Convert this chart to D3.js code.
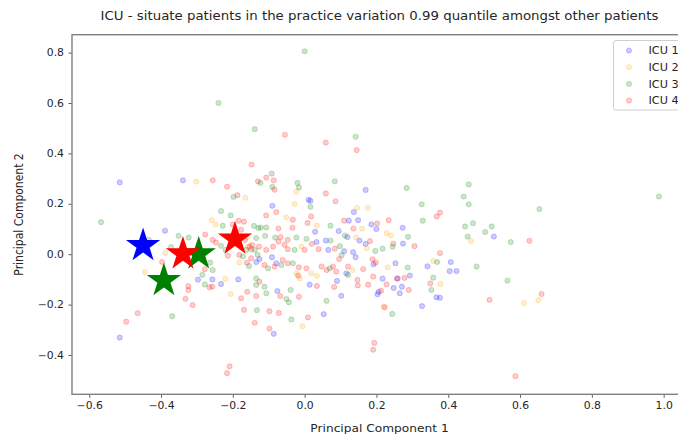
<!DOCTYPE html>
<html>
<head>
<meta charset="utf-8">
<script src="https://cdn.jsdelivr.net/npm/d3@7"></script>
<style>
  html, body { margin: 0; padding: 0; background: #fff; }
  text { font-family: "DejaVu Sans", sans-serif; fill: #262626; }
</style>
</head>
<body>
<svg id="chart" width="678" height="437"></svg>
<script>
// Patients projected on the first two principal components, one series per ICU
const icu1 = [[-0.515,0.285],[-0.339,0.293],[-0.389,0.093],[-0.297,-0.101],[-0.257,-0.100],[-0.233,-0.118],[-0.185,-0.100],[-0.515,-0.331],[-0.135,-0.031],[0.170,0.255],[0.011,0.216],[0.016,0.212],[-0.090,0.192],[0.029,0.089],[0.059,0.054],[0.095,0.092],[0.123,0.133],[0.149,0.135],[0.137,0.167],[0.186,0.118],[0.200,0.100],[0.273,0.105],[0.119,0.068],[0.153,0.054],[0.170,0.041],[0.274,0.042],[0.033,0.048],[0.066,0.017],[0.110,0.012],[0.135,0.008],[0.142,-0.012],[0.192,-0.040],[0.253,-0.036],[0.342,-0.048],[0.293,-0.085],[0.259,-0.096],[0.217,-0.097],[0.248,-0.134],[0.271,-0.129],[0.265,-0.155],[0.206,-0.149],[0.203,-0.159],[0.327,-0.206],[0.367,-0.171],[-0.126,-0.019],[-0.091,-0.012],[-0.079,-0.036],[0.014,-0.121],[0.090,-0.106],[0.102,-0.165],[0.053,-0.238],[0.116,-0.076],[-0.076,-0.146],[-0.086,-0.316],[0.527,0.070],[0.407,-0.031],[0.404,-0.067],[0.423,-0.067],[0.377,-0.173]];

const icu2 = [[-0.302,0.288],[-0.165,0.224],[-0.259,0.135],[-0.248,0.118],[-0.388,0.005],[-0.445,-0.071],[-0.221,-0.097],[-0.206,-0.158],[-0.182,-0.033],[-0.158,0.030],[-0.160,0.068],[-0.023,0.248],[-0.028,0.199],[-0.051,0.146],[0.034,0.114],[0.146,0.184],[0.176,0.184],[0.160,0.101],[0.228,0.084],[0.143,0.066],[0.173,0.024],[0.240,0.074],[0.231,-0.052],[0.358,-0.027],[0.220,-0.207],[-0.009,0.030],[-0.023,-0.076],[-0.014,-0.096],[0.019,-0.076],[0.034,-0.086],[0.133,-0.063],[-0.006,-0.286],[0.463,0.052],[0.378,-0.118],[0.651,-0.182],[0.611,-0.194]];

const icu3 = [[-0.240,0.600],[0.000,0.805],[-0.139,0.496],[0.142,0.466],[0.457,0.277],[0.443,0.229],[0.457,0.198],[0.654,0.179],[0.987,0.229],[0.447,0.110],[0.469,0.123],[0.521,0.110],[0.503,0.088],[0.454,0.070],[0.574,0.048],[0.479,-0.049],[0.565,-0.105],[-0.567,0.127],[-0.198,0.228],[-0.233,0.171],[-0.206,0.154],[-0.228,0.113],[-0.141,0.112],[-0.351,0.073],[-0.323,0.066],[-0.434,0.057],[-0.233,0.033],[-0.220,0.017],[-0.372,0.028],[-0.263,-0.033],[-0.256,-0.063],[-0.285,-0.082],[-0.278,-0.120],[-0.369,-0.246],[-0.133,-0.222],[-0.155,-0.047],[-0.135,-0.096],[-0.135,-0.122],[-0.163,0.017],[-0.131,-0.003],[-0.129,0.104],[-0.092,0.320],[-0.123,0.283],[-0.090,0.267],[-0.020,0.283],[-0.016,0.265],[0.084,0.289],[0.284,0.263],[0.016,0.188],[0.072,0.113],[-0.122,0.106],[-0.107,0.106],[-0.135,0.064],[-0.110,0.073],[-0.082,0.066],[-0.023,0.066],[0.005,0.061],[0.072,0.054],[0.326,0.198],[0.329,0.133],[0.098,0.032],[0.112,0.074],[0.245,0.030],[0.288,0.069],[0.217,0.022],[0.197,0.013],[0.103,-0.004],[0.287,-0.053],[0.369,-0.031],[0.353,-0.142],[0.358,-0.093],[0.244,-0.237],[-0.172,-0.009],[-0.139,0.017],[-0.028,0.017],[-0.102,-0.056],[-0.065,-0.043],[-0.033,-0.036],[0.070,-0.056],[0.061,-0.185],[0.121,-0.082],[-0.051,-0.178],[-0.044,-0.191],[-0.039,-0.142],[-0.107,-0.155],[-0.112,-0.129],[-0.037,-0.259]];

const icu4 = [[-0.055,0.474],[0.059,0.443],[0.145,0.413],[0.377,0.165],[0.626,0.053],[0.377,0.004],[0.660,-0.158],[0.515,-0.181],[0.587,-0.484],[-0.209,-0.445],[-0.216,-0.472],[0.194,-0.352],[0.191,-0.379],[-0.256,0.293],[-0.148,0.356],[-0.216,0.268],[-0.187,0.234],[-0.130,0.289],[-0.184,0.133],[-0.169,0.129],[-0.177,0.097],[-0.277,0.078],[-0.256,0.057],[-0.247,0.046],[-0.397,-0.031],[-0.278,-0.060],[-0.257,-0.129],[-0.265,-0.131],[-0.324,-0.127],[-0.324,-0.142],[-0.332,-0.177],[-0.312,-0.202],[-0.465,-0.234],[-0.497,-0.268],[-0.177,-0.175],[-0.169,-0.221],[-0.139,-0.272],[-0.160,-0.149],[-0.135,-0.166],[-0.214,-0.006],[-0.182,-0.003],[-0.161,-0.033],[-0.149,-0.016],[-0.146,0.037],[-0.149,0.020],[-0.200,0.117],[-0.166,0.057],[-0.107,0.304],[-0.086,0.293],[-0.084,0.256],[0.059,0.241],[0.086,0.210],[-0.079,0.167],[-0.107,0.154],[-0.033,0.137],[0.018,0.150],[0.008,0.124],[-0.073,0.102],[-0.034,0.105],[-0.067,0.068],[-0.047,0.057],[0.110,0.133],[0.136,0.102],[0.234,0.135],[0.202,0.122],[0.368,0.150],[0.182,0.052],[0.247,0.042],[0.306,0.032],[0.020,0.041],[0.039,0.020],[0.084,0.022],[0.096,-0.019],[0.189,-0.020],[0.198,-0.033],[0.191,-0.089],[0.163,-0.059],[0.147,-0.102],[0.148,-0.124],[0.177,-0.121],[0.228,-0.120],[0.257,-0.097],[0.278,-0.094],[0.290,-0.142],[0.213,-0.145],[0.223,-0.211],[0.350,-0.116],[-0.153,0.030],[-0.127,0.030],[-0.107,0.017],[-0.088,0.030],[-0.073,0.050],[-0.056,0.037],[-0.047,0.020],[0.000,0.017],[-0.061,-0.023],[-0.112,-0.043],[-0.084,-0.049],[-0.047,-0.036],[-0.016,-0.052],[-0.018,-0.085],[0.005,-0.056],[0.047,-0.049],[0.061,-0.063],[0.079,-0.049],[0.088,-0.069],[0.082,-0.130],[0.034,-0.126],[0.121,-0.049],[-0.068,-0.166],[-0.016,-0.169],[-0.098,-0.226],[-0.126,-0.109],[-0.098,-0.295],[0.009,-0.251],[-0.072,-0.233]];

// Patients in the 0.99 quantile, highlighted as stars
const starsIcu1 = [[-0.450,0.034]];
const starsIcu3 = [[-0.295,0.001],[-0.392,-0.105]];
const starsIcu4 = [[-0.339,0.001],[-0.194,0.060]];

const seriesNames = ["ICU 1", "ICU 2", "ICU 3", "ICU 4"];
const seriesColors = ["#0000ff", "#ffa500", "#008000", "#ff0000"];
const xTicks = [-0.6, -0.4, -0.2, 0.0, 0.2, 0.4, 0.6, 0.8, 1.0];
const yTicks = [-0.4, -0.2, 0.0, 0.2, 0.4, 0.6, 0.8];

const svg = d3.select("#chart");
const plotLeft = 72, plotRight = 687, plotTop = 34.7, plotBottom = 394.3;
// Text in this figure is slightly wider than tall
const sx = 1.13;

const x = d3.scaleLinear().domain([-0.648, 1.065]).range([plotLeft, plotRight]);
const y = d3.scaleLinear().domain([-0.556, 0.871]).range([plotBottom, plotTop]);

const fmt = v => d3.format(".1f")(v).replace("-", "\u2212");

svg.append("defs").append("clipPath").attr("id", "plotClip")
  .append("rect").attr("x", plotLeft).attr("y", plotTop)
  .attr("width", plotRight - plotLeft).attr("height", plotBottom - plotTop);

const plot = svg.append("g").attr("clip-path", "url(#plotClip)");

// Scatter of all patients
[icu1, icu2, icu3, icu4].forEach((pts, i) => {
  plot.append("g").selectAll("circle").data(pts).join("circle")
    .attr("cx", d => x(d[0])).attr("cy", d => y(d[1])).attr("r", 2.6)
    .attr("fill", seriesColors[i]).attr("fill-opacity", 0.2)
    .attr("stroke", seriesColors[i]).attr("stroke-opacity", 0.2)
    .attr("stroke-width", 1);
});

// Highlighted patients
const star = d3.symbol().type(d3.symbolStar).size(365);
[[starsIcu1, seriesColors[0]], [starsIcu3, seriesColors[2]], [starsIcu4, seriesColors[3]]]
  .forEach(([pts, col]) => {
    plot.append("g").selectAll("path").data(pts).join("path")
      .attr("d", star)
      .attr("transform", d => `translate(${x(d[0])},${y(d[1])})`)
      .attr("fill", col);
  });

// Axes
const xAxis = svg.append("g").attr("transform", `translate(0,${plotBottom})`)
  .call(d3.axisBottom(x).tickValues(xTicks).tickFormat(fmt).tickSizeOuter(0).tickSize(3.5).tickPadding(4.5));
const yAxis = svg.append("g").attr("transform", `translate(${plotLeft},0)`)
  .call(d3.axisLeft(y).tickValues(yTicks).tickFormat(fmt).tickSizeOuter(0).tickSize(3.5).tickPadding(4.5));
[xAxis, yAxis].forEach(a => {
  a.select(".domain").remove();
  a.selectAll(".tick line").attr("stroke", "#333").attr("stroke-width", 0.8);
  a.selectAll(".tick text").attr("font-size", 9.6).attr("fill", "#262626")
    .style("font-family", "DejaVu Sans, sans-serif");
});
xAxis.selectAll(".tick text").attr("transform", `scale(${sx},1)`);
yAxis.selectAll(".tick text").attr("x", -8 / sx).attr("transform", `scale(${sx},1)`);

// Frame
svg.append("rect").attr("x", plotLeft).attr("y", plotTop)
  .attr("width", plotRight - plotLeft).attr("height", plotBottom - plotTop)
  .attr("fill", "none").attr("stroke", "#808080").attr("stroke-width", 1.4);

// Titles
const cx = (plotLeft + plotRight) / 2;
svg.append("text").attr("transform", `translate(${cx},19.5) scale(${sx},1)`)
  .attr("text-anchor", "middle").attr("font-size", 11.8)
  .text("ICU - situate patients in the practice variation 0.99 quantile amongst other patients");
svg.append("text").attr("transform", `translate(${cx},432) scale(${sx},1)`)
  .attr("text-anchor", "middle").attr("font-size", 10.8)
  .text("Principal Component 1");
svg.append("text").attr("transform", `translate(23,${(plotTop + plotBottom) / 2}) scale(${sx},1) rotate(-90)`)
  .attr("text-anchor", "middle").attr("font-size", 10.8)
  .text("Principal Component 2");

// Legend
const lg = svg.append("g").attr("transform", "translate(613.5,40.5)");
lg.append("rect").attr("width", 80).attr("height", 69.5).attr("rx", 2.5)
  .attr("fill", "#fff").attr("fill-opacity", 0.8)
  .attr("stroke", "#d0d0d0").attr("stroke-width", 1);
seriesNames.forEach((name, i) => {
  const row = lg.append("g").attr("transform", `translate(0,${10 + i * 16.7})`);
  row.append("circle").attr("cx", 15.5).attr("cy", 0).attr("r", 2.6)
    .attr("fill", seriesColors[i]).attr("fill-opacity", 0.2)
    .attr("stroke", seriesColors[i]).attr("stroke-opacity", 0.2);
  row.append("text").attr("transform", `translate(35,3.6) scale(${sx},1)`)
    .attr("font-size", 10).text(name);
});
</script>
</body>
</html>
